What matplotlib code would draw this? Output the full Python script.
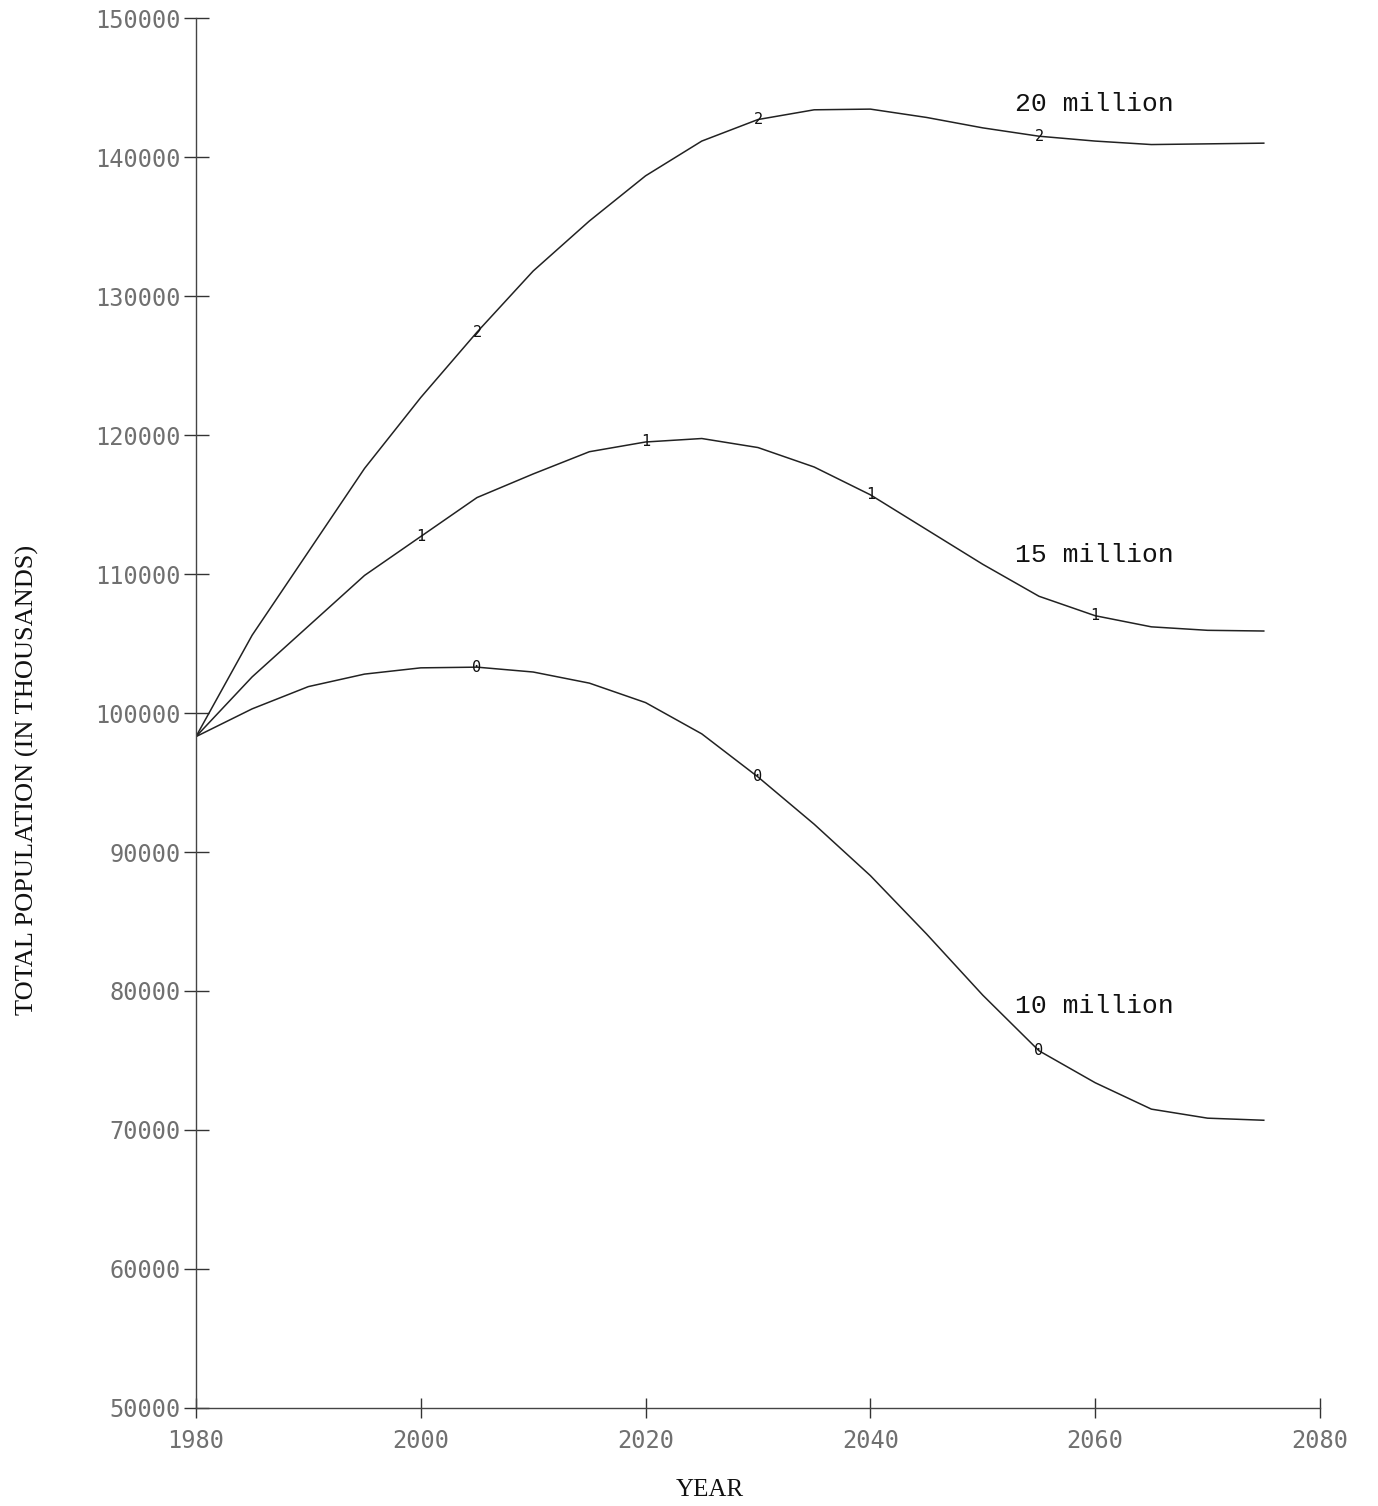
import matplotlib
matplotlib.use("Agg")
import matplotlib.pyplot as plt

# Projected total population (thousands) under three annual immigration levels
years = [1980, 1985, 1990, 1995, 2000, 2005, 2010, 2015, 2020, 2025,
         2030, 2035, 2040, 2045, 2050, 2055, 2060, 2065, 2070, 2075]

pop_20m = [98300, 105600, 111600, 117600, 122700, 127400, 131800, 135400, 138650, 141150,
           142700, 143400, 143450, 142850, 142100, 141500, 141150, 140900, 140950, 141000]
pop_15m = [98300, 102600, 106250, 109900, 112700, 115500, 117200, 118800, 119500, 119750,
           119100, 117700, 115700, 113200, 110700, 108400, 107000, 106200, 105950, 105900]
pop_10m = [98300, 100300, 101900, 102800, 103250, 103300, 102950, 102150, 100750, 98500,
           95400, 92000, 88300, 84100, 79700, 75700, 73400, 71500, 70850, 70700]

series_names = ["20 million", "15 million", "10 million"]
series_values = [pop_20m, pop_15m, pop_10m]
series_symbols = ["2", "1", "0"]
symbol_years = [[2005, 2030, 2055], [2000, 2020, 2040, 2060], [2005, 2030, 2055]]
label_anchor = [(2052.9, 143850), (2052.9, 111350), (2052.9, 78950)]

x_ticks = [1980, 2000, 2020, 2040, 2060, 2080]
y_ticks = [50000, 60000, 70000, 80000, 90000, 100000, 110000, 120000, 130000, 140000, 150000]

fig = plt.figure(figsize=(13.78, 15.06), dpi=100)
ax = fig.add_axes([0.1422, 0.0651, 0.8157, 0.9229])

line_color = "#222222"
for name, vals, sym, syears, anchor in zip(series_names, series_values, series_symbols,
                                           symbol_years, label_anchor):
    ax.plot(years, vals, color=line_color, linewidth=1.1, solid_joinstyle="round")
    for yr in syears:
        v = vals[years.index(yr)]
        ax.text(yr, v, sym, fontsize=11, family="DejaVu Sans Mono", color="#111111",
                ha="center", va="center")
    ax.text(anchor[0], anchor[1], name, fontsize=19, family="Liberation Mono",
            color="#111111", ha="left", va="center")

ax.set_xlim(1980, 2080)
ax.set_ylim(50000, 150000)
ax.set_xticks(x_ticks)
ax.set_yticks(y_ticks)
ax.set_xticklabels([str(t) for t in x_ticks])
ax.set_yticklabels([str(t) for t in y_ticks])

for side in ("top", "right"):
    ax.spines[side].set_visible(False)
for side in ("left", "bottom"):
    ax.spines[side].set_color("#444444")
    ax.spines[side].set_linewidth(1.0)

ax.tick_params(axis="y", direction="inout", length=18, width=1.0, color="#333333",
               labelsize=17, labelcolor="#707070", pad=2)
ax.tick_params(axis="x", direction="inout", length=14, width=1.0, color="#333333",
               labelsize=17, labelcolor="#707070", pad=8)
for lab in ax.get_xticklabels() + ax.get_yticklabels():
    lab.set_family("DejaVu Sans Mono")

ax.set_xlabel("YEAR", fontsize=18, family="Liberation Serif", color="#111111",
              va="center", ha="center")
ax.set_ylabel("TOTAL POPULATION (IN THOUSANDS)", fontsize=19, family="Liberation Serif",
              color="#111111", va="center", ha="center")
ax.xaxis.set_label_coords(0.457, -0.059)
ax.yaxis.set_label_coords(-0.150, 0.452)

fig.savefig("out.png", dpi=100, facecolor="white")
